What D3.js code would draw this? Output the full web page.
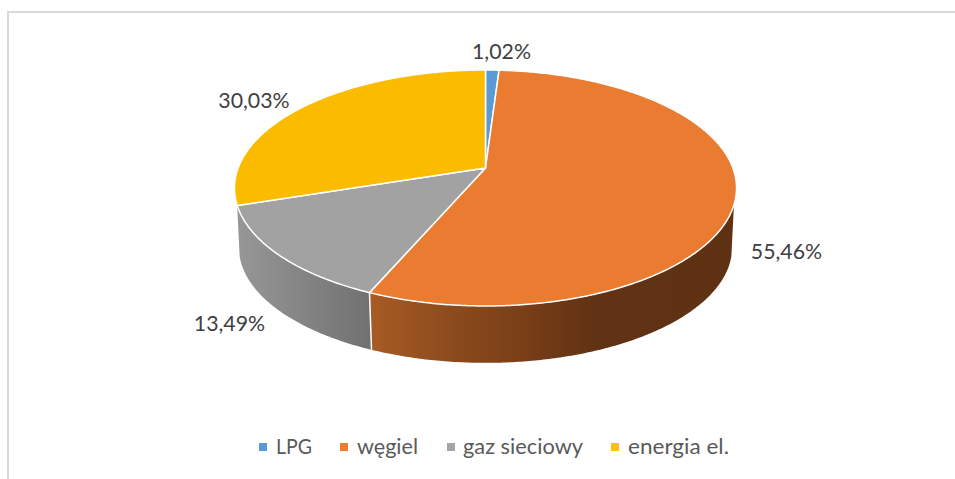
<!DOCTYPE html>
<html><head><meta charset="utf-8">
<script src="https://cdn.jsdelivr.net/npm/d3@7"></script>
<style>html,body{margin:0;padding:0;background:#fff}svg{display:block}</style>
</head><body><svg id="c" width="955" height="479"></svg>
<script>
const categories = ["LPG", "węgiel", "gaz sieciowy", "energia el."];
const values = [1.02, 55.46, 13.49, 30.03];
const labels = ["1,02%", "55,46%", "13,49%", "30,03%"];
const colors = ["#5B9BD5", "#EA7C31", "#A2A2A2", "#FBBC00"];
const legendColors = ["#5B9BD5", "#ED7D31", "#A5A5A5", "#FFC000"];
const labelX = [501.5, 786.5, 229.5, 254];
const labelY = [59, 259, 331, 108];
const legendMarkX = [259, 340, 447, 611];
const legendTextX = [276, 357, 463, 628];
const legendTextW = [36, 61, 120, 101];

const svg = d3.select("#c");
const FONT = "Lato, Carlito, Calibri, sans-serif";

// frame
svg.append("path").attr("d","M8 479V12H955").attr("fill","none").attr("stroke","#D9D9D9").attr("stroke-width",2);

// perspective projection of the tilted disc
const P = 0.1695;
const topFace = {x0:485.5, y0:168, a:247.4, b:114.6};
const botFace = {x0:485.5, y0:228, a:243, b:112};
const proj = (g,t)=>{const u=Math.sin(t),v=Math.cos(t),w=1+P*v;return [g.x0+g.a*u/w, g.y0-g.b*v/w];};
const arcPts = (g,a,b)=>{const n=Math.max(2,Math.ceil(Math.abs(b-a)/0.01));return d3.range(n+1).map(i=>proj(g,a+(b-a)*i/n));};
const line = d3.line();

const arcs = d3.pie().sort(null).value(d=>d).startAngle(0).endAngle(2*Math.PI)(values);
const rad = d=>d*Math.PI/180;

const defs = svg.append("defs");
const grad = (id,x1,x2,stops)=>{const g=defs.append("linearGradient").attr("id",id).attr("gradientUnits","userSpaceOnUse").attr("x1",x1).attr("x2",x2).attr("y1",0).attr("y2",0);
  stops.forEach(s=>g.append("stop").attr("offset",s[0]).attr("stop-color",s[1]));};
grad("wO",371,740,[[0,"#A85B24"],[0.2,"#8E4C1E"],[0.4,"#7A3F18"],[0.6,"#613314"],[1,"#5E3113"]]);
grad("wG",237,371,[[0,"#979797"],[1,"#717171"]]);

// side walls (visible part of the rim)
const rimStartTop = rad(107.8), rimEndTop = rad(252.1);
const rimStartBot = rad(104), rimEndBot = rad(256);
const seam = arcs[1].endAngle;
const wallO = arcPts(topFace,rimStartTop,seam).concat(arcPts(botFace,seam,rimStartBot));
const wallG = arcPts(topFace,seam,rimEndTop).concat(arcPts(botFace,rimEndBot,seam));
svg.append("path").attr("d",line(wallG)+"Z").attr("fill","url(#wG)");
svg.append("path").attr("d",line(wallO)+"Z").attr("fill","url(#wO)");
svg.append("path").attr("d",line([proj(topFace,seam),proj(botFace,seam)])).attr("stroke","#fff").attr("stroke-width",1.5).attr("fill","none");

// top faces
svg.selectAll("path.slice").data(arcs).join("path").attr("class","slice")
  .attr("d",d=>line([[topFace.x0,topFace.y0]].concat(arcPts(topFace,d.startAngle,d.endAngle)))+"Z")
  .attr("fill",(d,i)=>colors[i]).attr("stroke","#fff").attr("stroke-width",1.5).attr("stroke-linejoin","round");

// data labels
svg.selectAll("text.lab").data(labels).join("text").attr("class","lab")
  .attr("x",(d,i)=>labelX[i]).attr("y",(d,i)=>labelY[i]).attr("text-anchor","middle")
  .attr("font-family",FONT).attr("font-size",21.3).attr("fill","#404040").text(d=>d);

// legend
svg.selectAll("rect.lm").data(categories).join("rect").attr("class","lm")
  .attr("x",(d,i)=>legendMarkX[i]).attr("y",443).attr("width",8).attr("height",8).attr("fill",(d,i)=>legendColors[i]);
svg.selectAll("text.lt").data(categories).join("text").attr("class","lt")
  .attr("x",(d,i)=>legendTextX[i]).attr("y",454).attr("font-family",FONT).attr("font-size",21)
  .attr("textLength",(d,i)=>legendTextW[i]).attr("lengthAdjust","spacingAndGlyphs")
  .attr("fill","#595959").text(d=>d);
</script></body></html>
